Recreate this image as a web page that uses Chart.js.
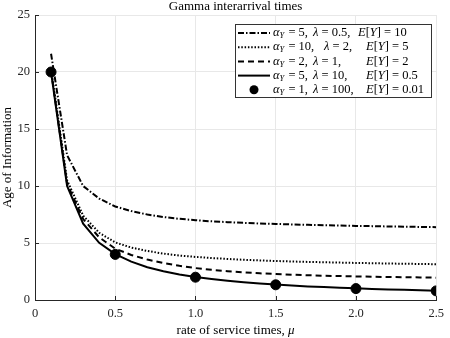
<!DOCTYPE html>
<html>
<head>
<meta charset="utf-8">
<script src="https://cdn.jsdelivr.net/npm/chart.js@4.4.1/dist/chart.umd.min.js"></script>
<style>
  html, body { margin: 0; padding: 0; background: #fff; }
  #wrap { width: 450px; height: 338px; }
</style>
</head>
<body>
<div id="wrap"><canvas id="aoi"></canvas></div>
<script>
// service rates mu
var mus = [0.1, 0.2, 0.3, 0.4, 0.5, 0.6, 0.7, 0.8, 0.9, 1.0, 1.1, 1.2, 1.3,
           1.4, 1.5, 1.6, 1.7, 1.8, 1.9, 2.0, 2.1, 2.2, 2.3, 2.4, 2.5];

// alpha=5, lambda=0.5, E[Y]=10
var ageEY10 = [21.6, 12.7, 10.0, 8.9, 8.2, 7.8, 7.5, 7.28, 7.12, 7.0, 6.9, 6.83, 6.77,
               6.71, 6.67, 6.63, 6.59, 6.56, 6.53, 6.5, 6.48, 6.45, 6.43, 6.41, 6.39];
// alpha=10, lambda=2, E[Y]=5
var ageEY5 = [20.3, 10.5, 7.4, 5.9, 5.05, 4.6, 4.3, 4.07, 3.9, 3.78, 3.68, 3.6, 3.53,
              3.47, 3.42, 3.38, 3.34, 3.31, 3.28, 3.25, 3.23, 3.2, 3.18, 3.16, 3.14];
// alpha=2, lambda=1, E[Y]=2
var ageEY2 = [20.1, 10.2, 7.1, 5.5, 4.5, 3.95, 3.55, 3.24, 3.0, 2.8, 2.65, 2.52, 2.42,
              2.34, 2.28, 2.22, 2.17, 2.13, 2.1, 2.07, 2.04, 2.02, 2.0, 1.98, 1.96];
// alpha=5, lambda=10, E[Y]=0.5
var ageEY05 = [20.0, 10.0, 6.7, 5.02, 4.02, 3.36, 2.88, 2.52, 2.24, 2.02, 1.84, 1.69, 1.56,
               1.45, 1.35, 1.27, 1.19, 1.13, 1.07, 1.02, 0.97, 0.93, 0.89, 0.85, 0.82];
// alpha=1, lambda=100, E[Y]=0.01 (markers)
var dotMus = [0.1, 0.5, 1.0, 1.5, 2.0, 2.5];
var ageEY001 = [20.0, 4.0, 2.0, 1.333, 1.0, 0.8];

var xTicks = [0, 0.5, 1, 1.5, 2, 2.5];
var yTicks = [0, 5, 10, 15, 20, 25];

var legendRows = [
  { a: "5",  l: "0.5", e: "10"   },
  { a: "10", l: "2",   e: "5"    },
  { a: "2",  l: "1",   e: "2"    },
  { a: "5",  l: "10",  e: "0.5"  },
  { a: "1",  l: "100", e: "0.01" }
];

function pts(xs, ys){
  var out = [];
  for (var i = 0; i < xs.length; i++) out.push({x: xs[i], y: ys[i]});
  return out;
}

var serif = "'Liberation Serif', 'DejaVu Serif', serif";
var ink = "#262626";

var styles = [
  { dash: [6, 2, 1.5, 2] },
  { dash: [1.5, 1.8] },
  { dash: [6, 4] },
  { dash: [] }
];

var datasets = [ageEY10, ageEY5, ageEY2, ageEY05].map(function(vals, i){
  return {
    data: pts(mus, vals),
    borderColor: "#000",
    borderWidth: 2,
    borderDash: styles[i].dash,
    pointRadius: 0,
    tension: 0,
    fill: false
  };
});
datasets.push({
  data: pts(dotMus, ageEY001),
  showLine: false,
  pointRadius: 5,
  pointBackgroundColor: "#000",
  pointBorderColor: "#000",
  borderColor: "#000"
});

function seg(c, x, y, txt, italic, sub){
  c.font = (italic ? "italic " : "") + (sub ? "8.5px " : "12.5px ") + serif;
  c.fillText(txt, x, sub ? y + 3 : y);
  return x + c.measureText(txt).width;
}

// inward ticks, title, x label and the legend box (MATLAB look)
var extras = {
  id: "extras",
  afterDraw: function(chart){
    var c = chart.ctx, a = chart.chartArea;
    var xs = chart.scales.x, ys = chart.scales.y;
    c.save();
    c.strokeStyle = ink;
    c.lineWidth = 1;
    c.beginPath();
    xTicks.forEach(function(t){
      var px = Math.round(xs.getPixelForValue(t)) + 0.5;
      c.moveTo(px, a.bottom); c.lineTo(px, a.bottom - 4);
    });
    yTicks.forEach(function(t){
      var py = Math.round(ys.getPixelForValue(t)) + 0.5;
      c.moveTo(a.left, py); c.lineTo(a.left + 4, py);
    });
    c.stroke();

    // title
    c.fillStyle = "#000";
    c.font = "13px " + serif;
    c.textAlign = "center";
    c.textBaseline = "middle";
    c.fillText("Gamma interarrival times", (a.left + a.right) / 2, 7);

    // x axis label with italic mu
    c.font = "13px " + serif;
    var t1 = "rate of service times, ";
    c.font = "italic 13px " + serif;
    var wMu = c.measureText("\u03bc").width;
    c.font = "13px " + serif;
    var w1 = c.measureText(t1).width;
    var sx = (a.left + a.right) / 2 - (w1 + wMu) / 2;
    c.textAlign = "left";
    c.fillText(t1, sx, 331);
    c.font = "italic 13px " + serif;
    c.fillText("\u03bc", sx + w1, 331);

    // legend
    var bx = 235.5, by = 24.5, bw = 196, bh = 73;
    c.fillStyle = "#fff";
    c.fillRect(bx, by, bw, bh);
    c.strokeStyle = "#333";
    c.lineWidth = 1;
    c.strokeRect(bx, by, bw, bh);

    legendRows.forEach(function(r, i){
      var y = 33 + i * 14.2;
      c.strokeStyle = "#000";
      c.fillStyle = "#000";
      if (i < 4) {
        c.lineWidth = 2;
        c.setLineDash(styles[i].dash);
        c.beginPath(); c.moveTo(238, y); c.lineTo(270, y); c.stroke();
        c.setLineDash([]);
      } else {
        c.beginPath(); c.arc(254, y, 4.5, 0, Math.PI * 2); c.fill();
      }
      var lx = (i === 1) ? 324 : 313;
      var ex = (i === 0) ? 358 : 366;
      c.textAlign = "left";
      c.textBaseline = "middle";
      var x = 273;
      x = seg(c, x, y, "\u03b1", true, false);
      x = seg(c, x, y, "Y", true, true);
      seg(c, x + 1, y, " = " + r.a + ",", false, false);
      x = seg(c, lx, y, "\u03bb", true, false);
      seg(c, x, y, " = " + r.l + ",", false, false);
      x = seg(c, ex, y, "E", true, false);
      x = seg(c, x, y, "[", false, false);
      x = seg(c, x, y, "Y", true, false);
      seg(c, x, y, "] = " + r.e, false, false);
    });
    c.restore();
  }
};

new Chart(document.getElementById("aoi"), {
  type: "line",
  data: { datasets: datasets },
  plugins: [extras],
  options: {
    responsive: true,
    maintainAspectRatio: false,
    animation: false,
    layout: { padding: { top: 15, right: 9, left: 0, bottom: 0 } },
    plugins: {
      legend: { display: false },
      title: { display: false },
      tooltip: { enabled: false }
    },
    scales: {
      x: {
        type: "linear",
        min: 0, max: 2.5,
        afterBuildTicks: function(s){ s.ticks = xTicks.map(function(v){ return {value: v}; }); },
        afterFit: function(s){ s.height = 38; },
        grid: { color: "#e8e8e8", drawTicks: false },
        border: { color: ink, width: 1 },
        ticks: { color: ink, padding: 6, font: { family: serif, size: 12.5 }, maxRotation: 0 },
        title: { display: false }
      },
      y: {
        min: 0, max: 25,
        afterBuildTicks: function(s){ s.ticks = yTicks.map(function(v){ return {value: v}; }); },
        afterFit: function(s){ s.width = 35; },
        grid: { color: "#e8e8e8", drawTicks: false },
        border: { color: ink, width: 1 },
        ticks: { color: ink, padding: 5, font: { family: serif, size: 12.5 } },
        title: { display: true, text: "Age of Information", color: "#000",
                 font: { family: serif, size: 13 }, padding: 0 }
      }
    }
  }
});
</script>
</body>
</html>
